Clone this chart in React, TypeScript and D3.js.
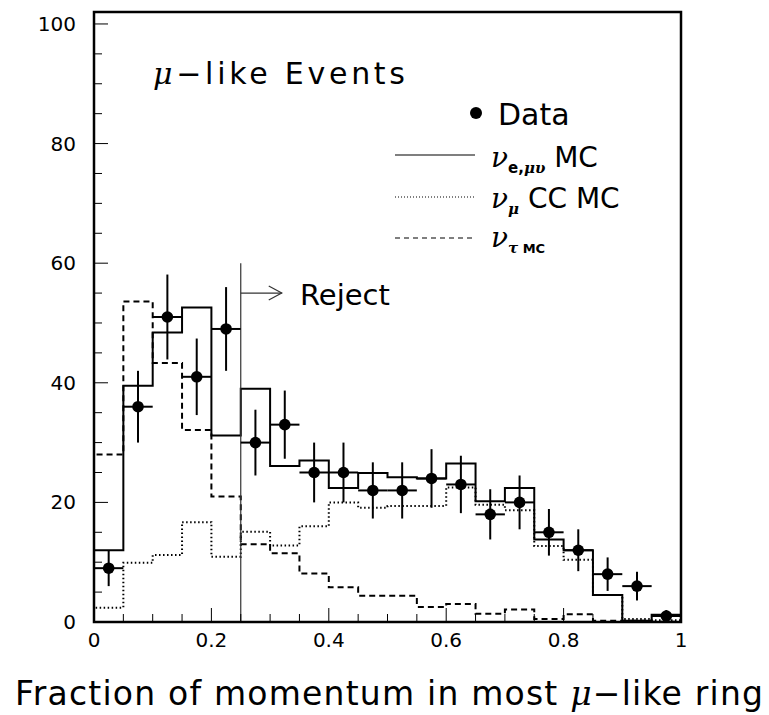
import React from "react";
import * as d3 from "d3";

const binLow = [0, 0.05, 0.1, 0.15, 0.2, 0.25, 0.3, 0.35, 0.4, 0.45, 0.5, 0.55, 0.6, 0.65, 0.7, 0.75, 0.8, 0.85, 0.9, 0.95];
const binWidth = 0.05;
const totalMC = [12, 39.5, 48.4, 52.6, 31.2, 39, 26.1, 27, 22.4, 24.9, 24.2, 24.0, 26.5, 20.2, 22.4, 13.8, 12.0, 4.5, 0.2, 1.2];
const numuCC = [2.4, 9.9, 11.2, 16.7, 10.9, 15.1, 12.8, 16.0, 20.0, 19.1, 19.4, 19.4, 22.5, 19.6, 18.7, 12.7, 10.4, 4.5, 0.5, 0.3];
const nutau = [28.0, 53.6, 43.3, 32.1, 21.0, 13.0, 11.5, 8.1, 5.8, 4.4, 4.4, 2.5, 3.0, 1.4, 2.1, 0.5, 1.3, 0.2, 0.2, 0.05];
const dataVal = [9, 36, 51, 41, 49, 30, 33, 25, 25, 22, 22, 24, 23, 18, 20, 15, 12, 8, 6, 1];
const dataErr = [3, 6, 7.1, 6.4, 7, 5.5, 5.7, 5, 5, 4.7, 4.7, 4.9, 4.8, 4.2, 4.5, 3.9, 3.5, 2.8, 2.4, 1];
const xTicks = [0, 0.2, 0.4, 0.6, 0.8, 1];
const xTickLabels = ["0", "0.2", "0.4", "0.6", "0.8", "1"];
const yTicks = [0, 20, 40, 60, 80, 100];
const rejectCut = 0.25;

const FONT = "'DejaVu Sans', 'Liberation Sans', sans-serif";
const GREEK = "'DejaVu Serif', serif";

export default function App() {
  const x = d3.scaleLinear().domain([0, 1]).range([94, 681]);
  const y = d3.scaleLinear().domain([0, 102]).range([622, 12]);

  const stepPath = (vals: number[]) => {
    const pts: [number, number][] = binLow.map((b, i) => [b, vals[i]]);
    pts.push([binLow[binLow.length - 1] + binWidth, vals[vals.length - 1]]);
    const line = d3
      .line<[number, number]>()
      .x((d) => x(d[0]))
      .y((d) => y(d[1]))
      .curve(d3.curveStepAfter);
    return `M${x(0)},${y(0)}L` + (line(pts) as string).slice(1);
  };

  const minorX = d3.range(0, 1.0001, 0.05);
  const minorY = d3.range(0, 101, 5);

  return (
    <svg width={769} height={715} style={{ display: "block", position: "absolute", left: 0, top: 0 }} fontFamily={FONT}>
      <rect x={0} y={0} width={769} height={715} fill="white" />
      {/* histograms */}
      <path d={stepPath(numuCC)} fill="none" stroke="black" strokeWidth={2} strokeDasharray="1.5,2.5" />
      <path d={stepPath(nutau)} fill="none" stroke="black" strokeWidth={2} strokeDasharray="6,4" />
      <path d={stepPath(totalMC)} fill="none" stroke="black" strokeWidth={2} />
      {/* reject line */}
      <line x1={x(rejectCut)} x2={x(rejectCut)} y1={y(0)} y2={y(60)} stroke="#333" strokeWidth={1.2} />
      <line x1={x(rejectCut)} x2={x(rejectCut) + 41} y1={y(55)} y2={y(55)} stroke="#333" strokeWidth={1.2} />
      <polyline
        points={`${x(rejectCut) + 28},${y(55) - 7} ${x(rejectCut) + 41},${y(55)} ${x(rejectCut) + 28},${y(55) + 7}`}
        fill="none"
        stroke="#333"
        strokeWidth={1.2}
      />
      <text x={300} y={305} fontSize={29}>Reject</text>
      {/* data */}
      {binLow.map((b, i) => {
        const cx = x(b + binWidth / 2);
        return (
          <g key={i}>
            <line x1={x(b)} x2={x(b + binWidth)} y1={y(dataVal[i])} y2={y(dataVal[i])} stroke="black" strokeWidth={2} />
            <line x1={cx} x2={cx} y1={y(dataVal[i] - dataErr[i])} y2={y(Math.min(dataVal[i] + dataErr[i], 102))} stroke="black" strokeWidth={2} />
            <circle cx={cx} cy={y(dataVal[i])} r={5.8} fill="black" />
          </g>
        );
      })}
      {/* frame */}
      <rect x={94} y={12} width={587} height={610} fill="none" stroke="black" strokeWidth={2.5} />
      {minorX.map((t, i) => {
        const major = Math.abs(t * 5 - Math.round(t * 5)) < 1e-6;
        return <line key={"mx" + i} x1={x(t)} x2={x(t)} y1={y(0)} y2={y(0) - (major ? 14 : 8)} stroke="black" strokeWidth={1} />;
      })}
      {minorY.map((t, i) => {
        const major = t % 20 === 0;
        return <line key={"my" + i} x1={94} x2={94 + (major ? 14 : 8)} y1={y(t)} y2={y(t)} stroke="black" strokeWidth={1} />;
      })}
      {xTicks.map((t, i) => (
        <text key={"xl" + i} x={x(t)} y={647} fontSize={20} textAnchor="middle">{xTickLabels[i]}</text>
      ))}
      {yTicks.map((t) => (
        <text key={"yl" + t} x={76} y={y(t) + 7} fontSize={20} textAnchor="end">{t}</text>
      ))}
      {/* title */}
      <text x={153} y={84} fontSize={30} textLength={252} lengthAdjust="spacing">
        <tspan fontStyle="italic" fontFamily={GREEK}>μ</tspan>−like Events
      </text>
      {/* legend */}
      <circle cx={476} cy={113} r={6} fill="black" />
      <text x={498} y={125} fontSize={30}>Data</text>
      <line x1={395} x2={475} y1={155} y2={155} stroke="black" strokeWidth={1.2} />
      <text x={491} y={167} fontSize={28}>
        <tspan fontStyle="italic" fontFamily={GREEK}>ν</tspan>
        <tspan fontSize={15} fontWeight="bold" dy={6}>e,</tspan>
        <tspan fontSize={15} fontWeight="bold" fontStyle="italic" fontFamily={GREEK}>μυ</tspan>
        <tspan dy={-6}> MC</tspan>
      </text>
      <line x1={395} x2={475} y1={197} y2={197} stroke="black" strokeWidth={1.2} strokeDasharray="1,2" />
      <text x={491} y={208} fontSize={28}>
        <tspan fontStyle="italic" fontFamily={GREEK}>ν</tspan>
        <tspan fontSize={15} fontWeight="bold" fontStyle="italic" fontFamily={GREEK} dy={6}>μ</tspan>
        <tspan dy={-6}> CC MC</tspan>
      </text>
      <line x1={395} x2={475} y1={238} y2={238} stroke="black" strokeWidth={1.2} strokeDasharray="5,4" />
      <text x={491} y={247} fontSize={28}>
        <tspan fontStyle="italic" fontFamily={GREEK}>ν</tspan>
        <tspan fontSize={15} fontWeight="bold" fontStyle="italic" fontFamily={GREEK} dy={6}>τ</tspan>
        <tspan fontSize={13} fontWeight="bold"> MC</tspan>
      </text>
      {/* x axis title */}
      <text x={15} y={705} fontSize={33} textLength={748} lengthAdjust="spacing">
        Fraction of momentum in most <tspan fontStyle="italic" fontFamily={GREEK}>μ</tspan>−like ring
      </text>
    </svg>
  );
}
